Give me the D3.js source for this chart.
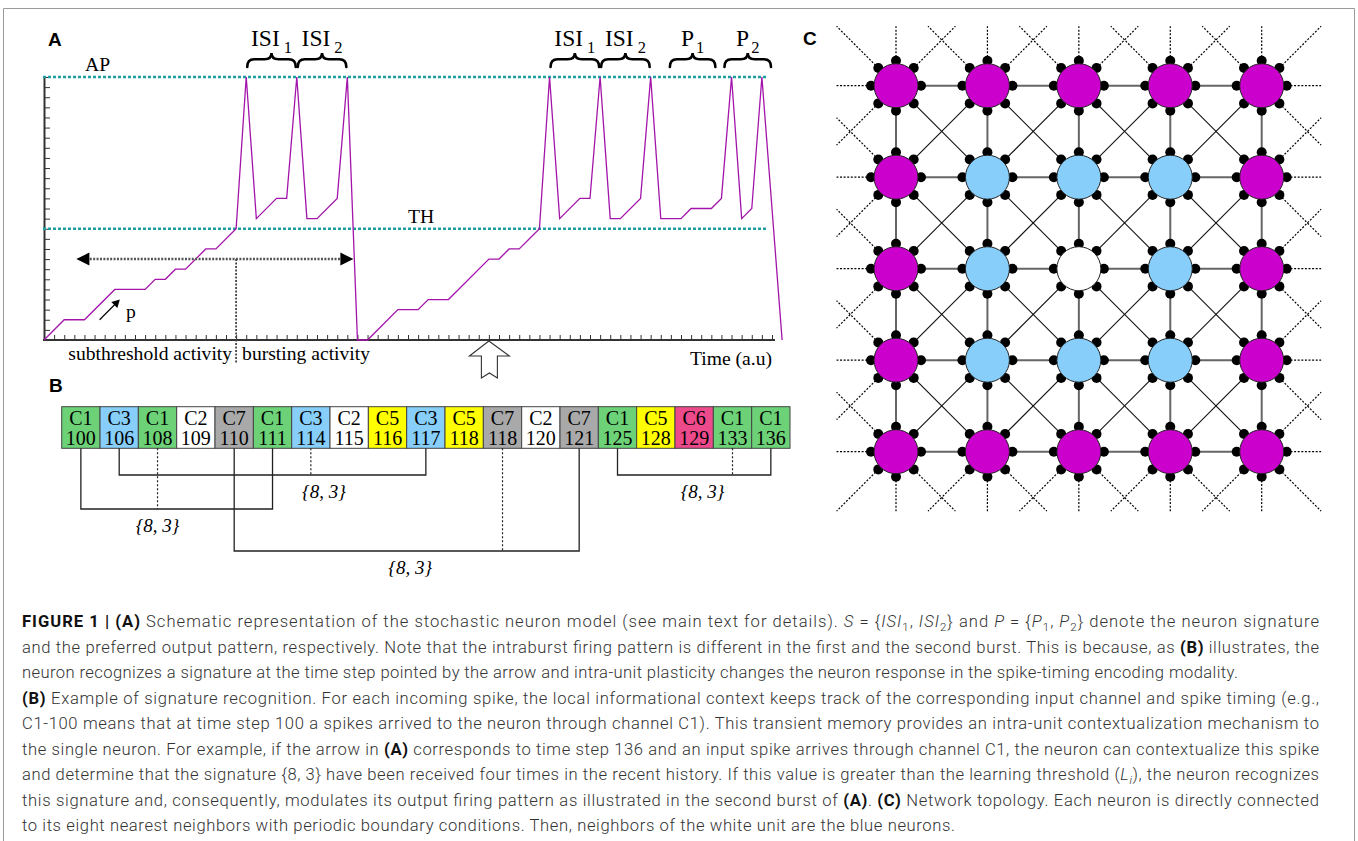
<!DOCTYPE html>
<html>
<head>
<meta charset="utf-8">
<script src="https://cdn.jsdelivr.net/npm/d3@7"></script>
<style>
  body { margin: 0; background: #fff; }
  svg text { font-family: "Liberation Serif", "Times New Roman", serif; }
  .panel { font-family: "Liberation Sans", Arial, sans-serif !important; font-weight: bold; font-size: 19px; }
  .cap { font-family: Roboto, "Liberation Sans", sans-serif !important; font-weight: 300; font-size: 16.6px; fill: #333; }
</style>
</head>
<body>
<div id="fig"></div>
<script>
// ---- Panel A: membrane potential trace (time step, potential level)
var traceT = [0,2,4,7,10,11,12,13,14,16,17,19,20,21,23,24,25,26,27,29,30,31,32,35,37,38,40,44,45,46,47,49,50,51,53,54,55,56,57,59,60,61,63,64,66,67,68,69,70,71,73];
var traceV = [0,2,2,5,5,6,6,7,7,9,9,11,26,12,14,14,26,12,12,14,26,0,0,3,3,4,4,8,8,9,9,11,26,12,14,14,26,12,12,14,26,12,12,13,13,14,26,12,13,26,0];
var levelAP = 26;
var levelTH = 11;
var braceStart = [20, 25, 50, 55, 61.8, 67.2];
var braceEnd   = [25, 30, 55, 60, 66.5, 72];
var braceLabel = ["ISI", "ISI", "ISI", "ISI", "P", "P"];
var braceSub   = ["1", "2", "1", "2", "1", "2"];

// ---- Panel B: informational context
var cellChan = ["C1","C3","C1","C2","C7","C1","C3","C2","C5","C3","C5","C7","C2","C7","C1","C5","C6","C1","C1"];
var cellTime = [100,106,108,109,110,111,114,115,116,117,118,118,120,121,125,128,129,133,136];
var sigCells = [[1,6,9],[0,2,5],[4,11,13],[14,17,18]];   // first, middle (dotted), last cell
var sigText  = ["{8, 3}","{8, 3}","{8, 3}","{8, 3}"];

// ---- Panel C: 5x5 network, m = magenta, b = blue, w = white
var gridRows = ["mmmmm","mbbbm","mbwbm","mbbbm","mmmmm"];

var chanColor = {C1:"#6dd277", C2:"#ffffff", C3:"#87cefa", C5:"#ffff00", C6:"#ec4a8b", C7:"#a9a9a9"};
var nodeColor = {m:"#cc00cc", b:"#87cefa", w:"#ffffff"};

var svg = d3.select("#fig").append("svg").attr("width", 1358).attr("height", 841);

// frame
svg.append("path").attr("d", "M3.5,850V8.5H1354.5V850").attr("fill", "none").attr("stroke", "#9a9a9a");

// ================= A =================
var x = d3.scaleLinear().domain([0, 72]).range([44, 772]);
var y = d3.scaleLinear().domain([0, 26]).range([340, 77]);
var gA = svg.append("g");
var fs = "19.6px";

svg.append("text").attr("class", "panel").attr("x", 48).attr("y", 46).text("A");

var xAxis = gA.append("g").attr("transform", "translate(0,340)")
  .call(d3.axisBottom(x).tickValues(d3.range(0, 73)).tickSize(-5).tickSizeOuter(0).tickFormat(""));
xAxis.select(".domain").attr("d", "M" + (x(0) - 1) + ",0H" + (x(72) + 3)).attr("stroke-width", 2);
xAxis.attr("color", "#333");

var yAxis = gA.append("g").attr("transform", "translate(" + x(0) + ",0)")
  .call(d3.axisLeft(y).tickValues(d3.range(0, 27)).tickSize(-6).tickSizeOuter(0).tickFormat(""));
yAxis.select(".domain").attr("stroke-width", 2);
yAxis.attr("color", "#333");

// AP and TH levels
[levelAP, levelTH].forEach(function(v) {
  gA.append("line")
    .attr("x1", x(0) - 1).attr("x2", x(71.6))
    .attr("y1", y(v)).attr("y2", y(v))
    .attr("stroke", "#1f9f9f").attr("stroke-width", 2.5).attr("stroke-dasharray", "3,2");
});
gA.append("text").attr("x", 85).attr("y", y(levelAP) - 6).style("font-size", fs).text("AP");
gA.append("text").attr("x", 408).attr("y", y(levelTH) - 6).style("font-size", fs).text("TH");

// trace
var trace = traceT.map(function(t, i) { return {t: t, v: traceV[i]}; });
var line = d3.line().x(d => x(d.t)).y(d => y(d.v));
gA.append("path").datum(trace).attr("d", line)
  .attr("fill", "none").attr("stroke", "#a314aa").attr("stroke-width", 1.3);

// braces with labels
function bracePath(x1, x2, yT, yB) {
  var xm = (x1 + x2) / 2, ym = yT + (yB - yT) * 0.45, q = 7;
  return "M" + x1 + "," + yB + " Q" + x1 + "," + ym + " " + (x1 + q) + "," + ym +
    " L" + (xm - q) + "," + ym + " Q" + xm + "," + ym + " " + xm + "," + yT +
    " Q" + xm + "," + ym + " " + (xm + q) + "," + ym +
    " L" + (x2 - q) + "," + ym + " Q" + x2 + "," + ym + " " + x2 + "," + yB;
}
braceStart.forEach(function(s, i) {
  var x1 = x(s), x2 = x(braceEnd[i]);
  gA.append("path").attr("d", bracePath(x1 + 1, x2 - 1, 53, 67))
    .attr("fill", "none").attr("stroke", "#000").attr("stroke-width", 2.6).attr("stroke-linecap", "round");
  var t = gA.append("text").attr("x", (x1 + x2) / 2).attr("y", 46)
    .attr("text-anchor", "middle").style("font-size", "23.5px");
  t.append("tspan").text(braceLabel[i]);
  t.append("tspan").attr("dx", braceLabel[i] == "ISI" ? 4 : 2).attr("dy", 7).style("font-size", "16.5px").text(braceSub[i]);
});

// subthreshold / bursting arrow
var arrowY = y(8);
gA.append("line").attr("x1", x(3.2) + 10).attr("x2", x(30.6) - 10).attr("y1", arrowY).attr("y2", arrowY)
  .attr("stroke", "#555").attr("stroke-width", 2.5).attr("stroke-dasharray", "2,1.4");
gA.append("path").attr("d", "M" + x(3.2) + "," + arrowY + "l13,-6.5v13z").attr("fill", "#000");
gA.append("path").attr("d", "M" + x(30.6) + "," + arrowY + "l-13,-6.5v13z").attr("fill", "#000");
gA.append("line").attr("x1", x(19)).attr("x2", x(19)).attr("y1", arrowY).attr("y2", 363)
  .attr("stroke", "#444").attr("stroke-width", 1.8).attr("stroke-dasharray", "2,1.5");
gA.append("text").attr("x", x(19) - 4).attr("y", 360).attr("text-anchor", "end").style("font-size", fs).text("subthreshold activity");
gA.append("text").attr("x", x(19) + 6).attr("y", 360).style("font-size", fs).text("bursting activity");
gA.append("text").attr("x", x(72)).attr("y", 365).attr("text-anchor", "end").style("font-size", fs).text("Time (a.u)");

// p arrow
var px1 = x(5.5), py1 = y(2), px2 = x(7.5), py2 = y(4);
gA.append("line").attr("x1", px1).attr("y1", py1).attr("x2", px2 - 4).attr("y2", py2 + 4)
  .attr("stroke", "#000").attr("stroke-width", 1.2);
gA.append("path").attr("d", "M" + px2 + "," + py2 + "l-2.5,8.5l-6,-6z").attr("fill", "#000");
gA.append("text").attr("x", x(8.1)).attr("y", y(2.15)).style("font-size", fs).text("p");

// open arrow marking the recognition step
var ax = x(44);
gA.append("path")
  .attr("d", "M" + ax + ",341 l20.5,15 h-12 v22 l-8,-5 l-8,5 v-22 h-12 z")
  .attr("fill", "#fff").attr("stroke", "#333").attr("stroke-width", 1.1);

// ================= B =================
var gB = svg.append("g");
svg.append("text").attr("class", "panel").attr("x", 49).attr("y", 392).text("B");

var band = d3.scaleBand().domain(d3.range(cellChan.length)).range([61.7, 790]);
var cellTop = 406.7, cellH = 41.6, cellBottom = cellTop + cellH;

var cells = gB.selectAll("g.cell").data(cellChan).enter().append("g").attr("class", "cell");
cells.append("rect")
  .attr("x", (d, i) => band(i)).attr("y", cellTop)
  .attr("width", band.bandwidth()).attr("height", cellH)
  .attr("fill", d => chanColor[d]).attr("stroke", "#444").attr("stroke-width", 1);
cells.append("text")
  .attr("x", (d, i) => band(i) + band.bandwidth() / 2).attr("y", 425)
  .attr("text-anchor", "middle").style("font-size", "20px").text(d => d);
cells.append("text")
  .attr("x", (d, i) => band(i) + band.bandwidth() / 2).attr("y", 444.5)
  .attr("text-anchor", "middle").style("font-size", "20px").text((d, i) => cellTime[i]);

var bracketY = [475, 509, 551, 475];
var labelPos = [6.84, 2.5, 9.09, 16.72];
function cx(i) { return band(i) + band.bandwidth() / 2; }
sigCells.forEach(function(s, k) {
  var yb = bracketY[k];
  gB.append("path")
    .attr("d", "M" + cx(s[0]) + "," + cellBottom + "V" + yb + "H" + cx(s[2]) + "V" + cellBottom)
    .attr("fill", "none").attr("stroke", "#222").attr("stroke-width", 1.3);
  gB.append("line").attr("x1", cx(s[1])).attr("x2", cx(s[1])).attr("y1", cellBottom).attr("y2", yb)
    .attr("stroke", "#222").attr("stroke-width", 1.2).attr("stroke-dasharray", "2,2");
  gB.append("text").attr("x", 61.7 + band.bandwidth() * labelPos[k]).attr("y", yb + 23)
    .attr("text-anchor", "middle").style("font-size", "19px").style("font-style", "italic").text(sigText[k]);
});

// ================= C =================
var gC = svg.append("g");
svg.append("text").attr("class", "panel").attr("x", 803).attr("y", 45).text("C");

var gx = d3.scaleLinear().domain([0, 4]).range([896, 1261.7]);
var gy = d3.scaleLinear().domain([0, 4]).range([85.7, 451.7]);
var nodes = [];
gridRows.forEach(function(row, j) {
  row.split("").forEach(function(c, i) { nodes.push({i: i, j: j, c: c}); });
});
var dirs = [[-1,-1],[0,-1],[1,-1],[-1,0],[1,0],[-1,1],[0,1],[1,1]];

// periodic boundary stubs (dotted) and internal links
nodes.forEach(function(n) {
  dirs.forEach(function(d) {
    var ni = n.i + d[0], nj = n.j + d[1];
    var inside = ni >= 0 && ni <= 4 && nj >= 0 && nj <= 4;
    if (!inside) {
      gC.append("line")
        .attr("x1", gx(n.i)).attr("y1", gy(n.j))
        .attr("x2", gx(n.i + d[0] * 0.65)).attr("y2", gy(n.j + d[1] * 0.65))
        .attr("stroke", "#000").attr("stroke-width", 1.2).attr("stroke-dasharray", "2,1.6");
    } else if (d[1] > 0 || (d[1] == 0 && d[0] > 0)) {
      var diag = d[0] != 0 && d[1] != 0;
      gC.append("line")
        .attr("x1", gx(n.i)).attr("y1", gy(n.j)).attr("x2", gx(ni)).attr("y2", gy(nj))
        .attr("stroke", diag ? "#111" : "#666").attr("stroke-width", diag ? 1.1 : 2);
    }
  });
});

// synapse dots
nodes.forEach(function(n) {
  dirs.forEach(function(d) {
    var a = Math.atan2(d[1], d[0]);
    gC.append("circle")
      .attr("cx", gx(n.i) + 25 * Math.cos(a)).attr("cy", gy(n.j) + 25 * Math.sin(a))
      .attr("r", 5).attr("fill", "#000");
  });
});

gC.selectAll("circle.node").data(nodes).enter().append("circle").attr("class", "node")
  .attr("cx", d => gx(d.i)).attr("cy", d => gy(d.j)).attr("r", 22)
  .attr("fill", d => nodeColor[d.c]).attr("stroke", "#222").attr("stroke-width", 1);

// ================= caption =================
var capLines = [
  [["FIGURE 1 | ","b"],["(A)","b"],[" Schematic representation of the stochastic neuron model (see main text for details). ",""],["S","i"],[" = {",""],["ISI","i"],["1","sub"],[", ",""],["ISI","i"],["2","sub"],["} and ",""],["P","i"],[" = {",""],["P","i"],["1","sub"],[", ",""],["P","i"],["2","sub"],["} denote the neuron signature",""]],
  [["and the preferred output pattern, respectively. Note that the intraburst firing pattern is different in the first and the second burst. This is because, as ",""],["(B)","b"],[" illustrates, the",""]],
  [["neuron recognizes a signature at the time step pointed by the arrow and intra-unit plasticity changes the neuron response in the spike-timing encoding modality.",""]],
  [["(B)","b"],[" Example of signature recognition. For each incoming spike, the local informational context keeps track of the corresponding input channel and spike timing (e.g.,",""]],
  [["C1-100 means that at time step 100 a spikes arrived to the neuron through channel C1). This transient memory provides an intra-unit contextualization mechanism to",""]],
  [["the single neuron. For example, if the arrow in ",""],["(A)","b"],[" corresponds to time step 136 and an input spike arrives through channel C1, the neuron can contextualize this spike",""]],
  [["and determine that the signature {8, 3} have been received four times in the recent history. If this value is greater than the learning threshold (",""],["L","i"],["i","isub"],["), the neuron recognizes",""]],
  [["this signature and, consequently, modulates its output firing pattern as illustrated in the second burst of ",""],["(A)","b"],[". ",""],["(C)","b"],[" Network topology. Each neuron is directly connected",""]],
  [["to its eight nearest neighbors with periodic boundary conditions. Then, neighbors of the white unit are the blue neurons.",""]]
];
var capWidth = [1297,1297,1216,1297,1297,1297,1297,1297,933];

capLines.forEach(function(segs, k) {
  var t = svg.append("text").attr("class", "cap")
    .attr("x", 22).attr("y", 627 + k * 25.5)
    .attr("textLength", capWidth[k]).attr("lengthAdjust", "spacing");
  var shifted = false;
  segs.forEach(function(s) {
    var sp = t.append("tspan").text(s[0]);
    var isSub = s[1] == "sub" || s[1] == "isub";
    if (isSub && !shifted) { sp.attr("dy", 4); shifted = true; }
    else if (!isSub && shifted) { sp.attr("dy", -4); shifted = false; }
    if (isSub) sp.style("font-size", "11.5px");
    if (s[1] == "b") sp.style("font-weight", 700).style("fill", "#111");
    if (s[1] == "i" || s[1] == "isub") sp.style("font-style", "italic");
  });
});
</script>
</body>
</html>
